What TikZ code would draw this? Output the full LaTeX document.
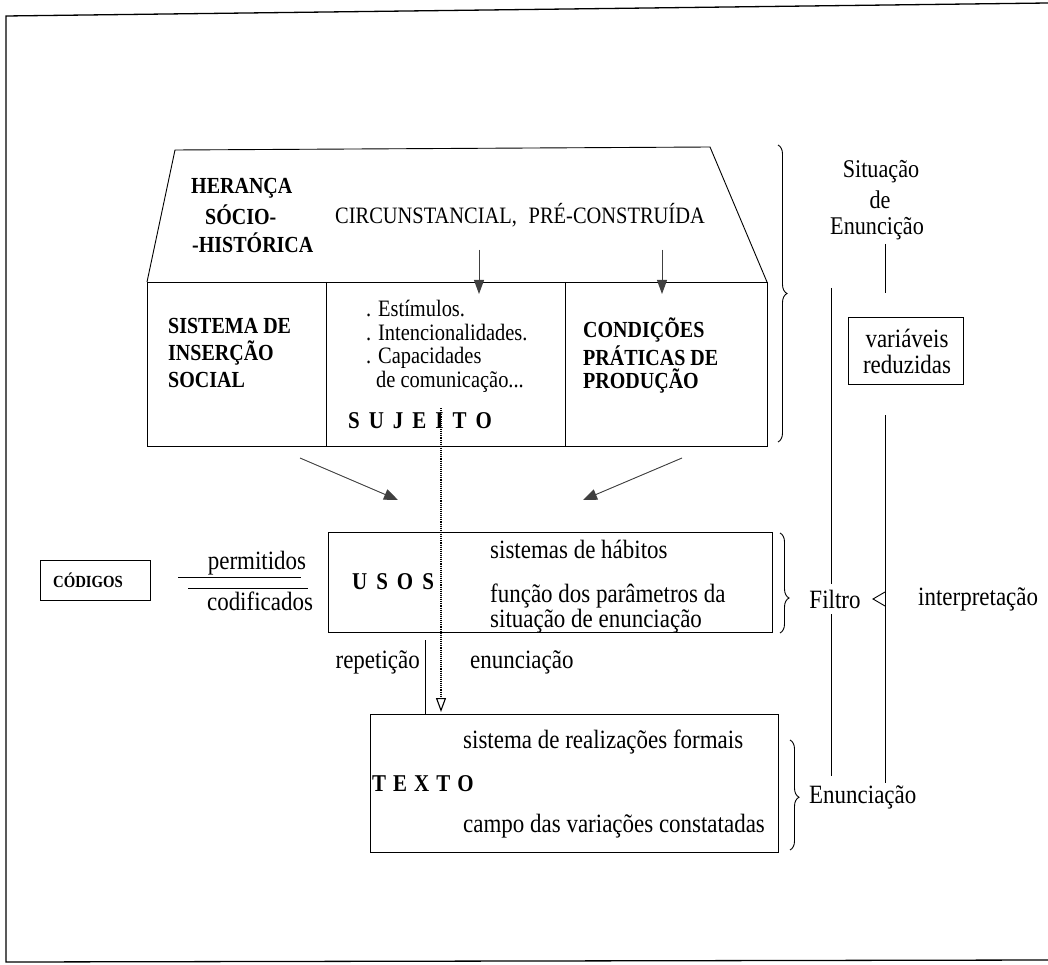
\documentclass[tikz,border=0pt]{standalone}
\usepackage{fontspec}
\setmainfont[FakeStretch=0.87]{Liberation Serif}
\usetikzlibrary{arrows.meta,decorations.pathreplacing}
\begin{document}
\begin{tikzpicture}[x=1pt,y=-1pt,
  frame/.style={line width=1.3pt},
  edge/.style={line width=0.9pt},
  txt/.style={inner sep=0pt, font=\fontsize{23.5}{27}\selectfont},
  ltxt/.style={inner sep=0pt, font=\fontsize{26.4}{30}\selectfont},
  rtxt/.style={inner sep=0pt, font=\fontsize{25.5}{29}\selectfont},
  btxt/.style={inner sep=0pt, font=\fontsize{23}{27}\selectfont\bfseries},
  bltxt/.style={inner sep=0pt, font=\fontsize{24.1}{28}\selectfont\bfseries},
  boxn/.style={draw, line width=0.9pt, inner sep=0pt},
  fillarrow/.style={-{Triangle[length=14pt,width=11pt]}, draw=black!75, fill=black!65, line width=0.9pt},
  brc/.style={decorate, decoration={brace, amplitude=9pt}, line width=0.9pt},
]
\useasboundingbox (0,0) rectangle (1048,965);
% outer frame
\coordinate (f1) at (1048,3);
\coordinate (f2) at (6,16);
\coordinate (f3) at (6,962);
\coordinate (f4) at (1048,960);
\draw[frame] (f1) -- (f2) -- (f3) -- (f4);

% trapezoid + rectangle
\coordinate (tl) at (175,150);
\coordinate (tr) at (710,147);
\coordinate (bl) at (147,282);
\coordinate (br) at (767,282);
\coordinate (bbr) at (767,446);
\draw[edge] (bl) -- (tl) -- (tr) -- (br);
\draw[edge] (bl) rectangle (bbr);
\coordinate (d1t) at (326,282); \coordinate (d1b) at (326,446);
\coordinate (d2t) at (565,282); \coordinate (d2b) at (565,446);
\draw[edge] (d1t) -- (d1b);
\draw[edge] (d2t) -- (d2b);

\node[btxt, anchor=west] (her1) at (191,188) {HERANÇA};
\node[btxt, anchor=west] (her2) at (205,215) {SÓCIO-};
\node[btxt, anchor=west] (her3) at (192,243) {-HISTÓRICA};
\node[txt] (circ) at (520,215) {CIRCUNSTANCIAL,\enspace PRÉ-CONSTRUÍDA};

\node[btxt, anchor=west] (sis1) at (168,326) {SISTEMA DE};
\node[btxt, anchor=west] (sis2) at (168,353) {INSERÇÃO};
\node[btxt, anchor=west] (sis3) at (168,380) {SOCIAL};

\node[txt, anchor=west] (m1) at (366,308) {. Estímulos.};
\node[txt, anchor=west] (m2) at (366,333) {. Intencionalidades.};
\node[txt, anchor=west] (m3) at (366,358) {. Capacidades};
\node[txt, anchor=west] (m4) at (376,382) {de comunicação...};
\node[bltxt, anchor=west] (suj) at (348,421) {S\hspace{9pt}U\hspace{9pt}J\hspace{9pt}E\hspace{9pt}I\hspace{9pt}T\hspace{9pt}O};

\node[btxt, anchor=west] (con1) at (583,330) {CONDIÇÕES};
\node[btxt, anchor=west] (con2) at (583,356) {PRÁTICAS DE};
\node[btxt, anchor=west] (con3) at (583,381) {PRODUÇÃO};

% small arrows
\coordinate (sa1s) at (479,250); \coordinate (sa1e) at (479,294);
\coordinate (sa2s) at (662,250); \coordinate (sa2e) at (662,294);
\draw[fillarrow, -{Triangle[length=14pt,width=10pt]}] (sa1s) -- (sa1e);
\draw[fillarrow, -{Triangle[length=14pt,width=10pt]}] (sa2s) -- (sa2e);

% big brace
\coordinate (b1t) at (778,145); \coordinate (b1b) at (778,442);
\draw[brc] (b1t) -- (b1b);

% right column
\node[rtxt] (sit1) at (881,172) {Situação};
\node[rtxt] (sit2) at (880,200) {de};
\node[rtxt] (sit3) at (877,229) {Enuncição};
\node[boxn, minimum width=115pt, minimum height=67pt] (var) at (905.5,350.5) {};
\node[ltxt] (var1) at (907,338) {variáveis};
\node[ltxt] (var2) at (907,364) {reduzidas};

\coordinate (r1) at (885,244);
\coordinate (r2) at (885,293);
\draw[edge] (r1) -- (r2);
\coordinate (r3) at (885,415);
\coordinate (r4) at (885,783);
\coordinate (l1) at (831,288);
\coordinate (l2) at (831,584);
\coordinate (l3) at (831,614);
\coordinate (l4) at (831,776);
\draw[edge] (l1) -- (l2);
\draw[edge] (l3) -- (l4);
\draw[edge] (r3) -- (r4);

% USOS
\node[boxn, minimum width=444pt, minimum height=100pt] (usos) at (550,582) {};
\node[bltxt, anchor=west] (usosl) at (352,582) {U\hspace{9pt}S\hspace{9pt}O\hspace{9pt}S};
\node[ltxt, anchor=west] (u1) at (490,549) {sistemas de hábitos};
\node[ltxt, anchor=west] (u2) at (490,596) {função dos parâmetros da};
\node[ltxt, anchor=west] (u3) at (490,621) {situação de enunciação};
\coordinate (b2t) at (780,533); \coordinate (b2b) at (780,633);
\draw[brc, decoration={aspect=0.65}] (b2t) -- (b2b);
\node[ltxt] (filtro) at (835,599) {Filtro};
\coordinate (ft1) at (885,592); \coordinate (ft2) at (873,599); \coordinate (ft3) at (885,606);
\draw[edge] (ft1) -- (ft2) -- (ft3);
\node[ltxt, anchor=west] (interp) at (918,599) {interpretação};

% arrows into USOS
\coordinate (a1s) at (300,458); \coordinate (a1e) at (398,500);
\coordinate (a2s) at (682,458); \coordinate (a2e) at (583,500);
\draw[fillarrow] (a1s) -- (a1e);
\draw[fillarrow] (a2s) -- (a2e);

% CODIGOS
\node[boxn, minimum width=110pt, minimum height=40pt] (cod) at (95,580) {};
\node[inner sep=0pt, font=\fontsize{17}{20}\selectfont\bfseries] (codl) at (88,580) {CÓDIGOS};
\coordinate (p1) at (178,577); \coordinate (p2) at (301,577);
\coordinate (c1) at (188,588); \coordinate (c2) at (308,588);
\draw[edge] (p1) -- (p2);
\draw[edge] (c1) -- (c2);
\node[ltxt] (perm) at (257,563) {permitidos};
\node[ltxt] (codif) at (260,601) {codificados};

% TEXTO
\node[boxn, minimum width=408pt, minimum height=138pt] (texto) at (574,783) {};
\node[ltxt, anchor=west] (t1) at (463,742) {sistema de realizações formais};
\node[bltxt, anchor=west] (tt) at (372,784) {T\hspace{7pt}E\hspace{7pt}X\hspace{7pt}T\hspace{7pt}O};
\node[ltxt, anchor=west] (t2) at (463,826) {campo das variações constatadas};
\coordinate (b3t) at (790,740); \coordinate (b3b) at (790,850);
\draw[brc, decoration={aspect=0.52}] (b3t) -- (b3b);
\node[ltxt, anchor=west] (enun) at (809,797) {Enunciação};

% repeticao / enunciacao
\coordinate (rep) at (425,640);
\draw[edge] (rep) -- (rep |- texto.north);
\node[ltxt, anchor=east] (repl) at (420,662) {repetição};
\node[ltxt, anchor=west] (enl) at (470,662) {enunciação};
\coordinate (dots) at (441,408);
\coordinate (dote) at (441,712);
\draw[densely dotted, line width=1.1pt, -{Triangle[open,length=14pt,width=10pt]}] (dots) -- (dote);
\end{tikzpicture}
\end{document}
